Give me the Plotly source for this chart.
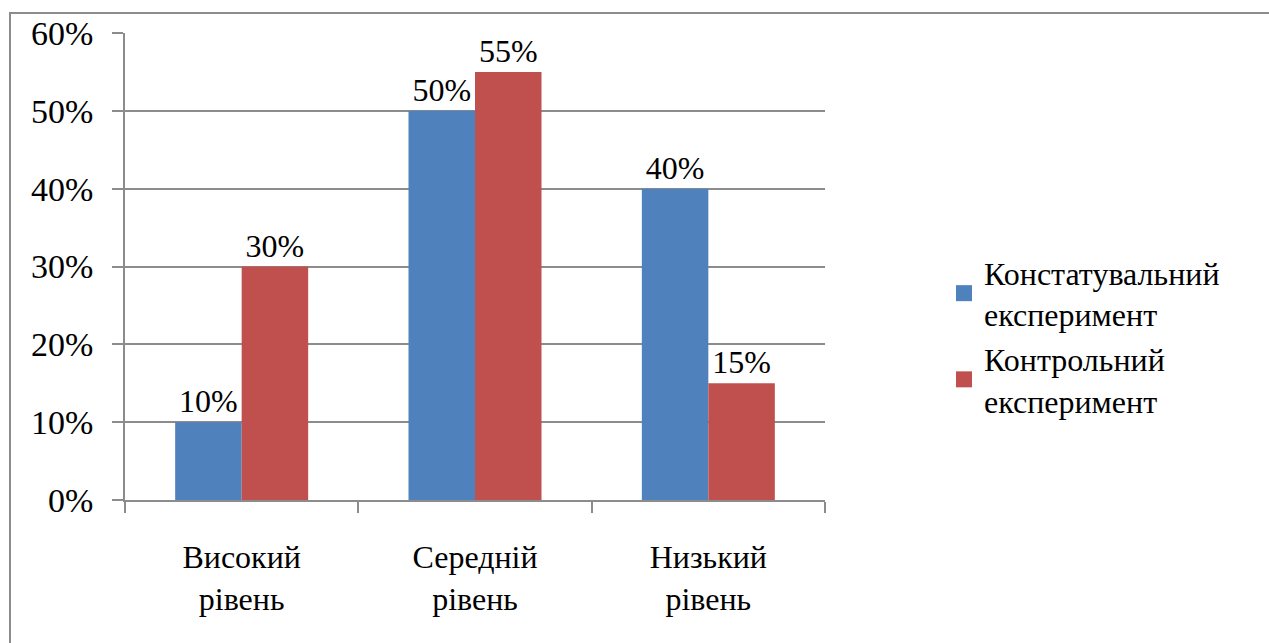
import plotly.graph_objects as go

categories = ["Високий<br>рівень", "Середній<br>рівень", "Низький<br>рівень"]
series_names = ["Констатувальний<br>експеримент", "Контрольний<br>експеримент"]
konst = [0.10, 0.50, 0.40]
kontr = [0.30, 0.55, 0.15]
colors = ["#4F81BD", "#C0504D"]
y_ticks = [0, 0.1, 0.2, 0.3, 0.4, 0.5, 0.6]
y_labels = ["0%", "10%", "20%", "30%", "40%", "50%", "60%"]

FONT = "Liberation Serif, Times New Roman, Tinos, serif"
GRAY = "#8c8c8c"

fig = go.Figure()
for name, vals, col in zip(series_names, [konst, kontr], colors):
    fig.add_trace(go.Bar(
        x=categories, y=vals, name=name, marker=dict(color=col, line=dict(width=0)),
        text=[f"{round(v*100)}%" for v in vals], textposition="outside",
        textfont=dict(family=FONT, size=32, color="black"), cliponaxis=False,
        showlegend=False,
    ))
    fig.add_trace(go.Scatter(
        x=[None], y=[None], mode="markers", name=name,
        marker=dict(symbol="square", size=16, color=col),
    ))

fig.update_layout(
    width=1269, height=643,
    margin=dict(l=125, r=444, t=33, b=143),
    paper_bgcolor="white", plot_bgcolor="white",
    barmode="group", bargap=0.43, bargroupgap=0,
    font=dict(family=FONT, size=32, color="black"),
    legend=dict(x=1.17, xanchor="left", y=0.35, yanchor="middle",
                font=dict(family=FONT, size=32, color="black"),
                tracegroupgap=22),
    xaxis=dict(showline=True, linecolor=GRAY, linewidth=1.5, ticks="outside",
               tickson="boundaries", ticklen=11, tickcolor=GRAY, tickwidth=1.5,
               tickfont=dict(family=FONT, size=32, color="black"), showgrid=False,
               ticklabelstandoff=28),
    yaxis=dict(range=[0, 0.6], tickvals=y_ticks, ticktext=y_labels,
               showline=True, linecolor=GRAY, linewidth=1.5, ticks="outside",
               ticklen=11, tickcolor=GRAY, tickwidth=1.5,
               showgrid=True, gridcolor=GRAY, gridwidth=1.5, zeroline=False,
               tickfont=dict(family=FONT, size=34, color="black"),
               ticklabelstandoff=12),
    shapes=[dict(type="rect", xref="paper", yref="paper",
                 x0=(10-125)/700, x1=(1290-125)/700,
                 y0=(500-660)/467, y1=(500-13)/467,
                 line=dict(color=GRAY, width=2), fillcolor="rgba(0,0,0,0)", layer="below")],
)

fig.write_html("out.html")
